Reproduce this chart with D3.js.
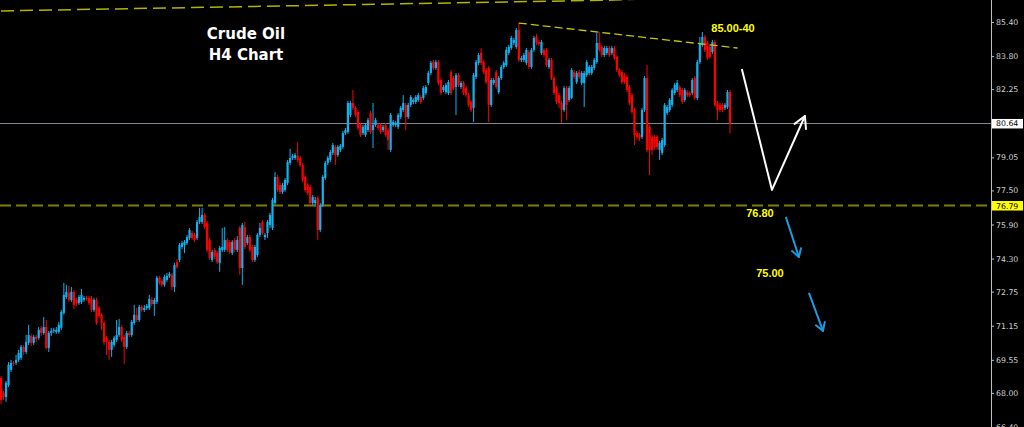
<!DOCTYPE html>
<html>
<head>
<meta charset="utf-8">
<script src="https://cdn.jsdelivr.net/npm/d3@7"></script>
<style>
  body { margin: 0; background: #000; }
  svg { display: block; }
</style>
</head>
<body>
<div id="chart"></div>
<script>
// H4 candles, each row is [open, close, high, low]
const candles = [
  [68.70,67.67,68.80,67.48],[68.00,67.81,68.09,67.67],[67.81,68.47,68.56,67.58],[68.37,69.31,69.45,68.28],
  [69.08,69.41,69.55,68.98],[69.41,69.36,69.50,69.26],[69.41,69.55,69.78,69.31],[69.55,69.88,70.02,69.45],
  [69.64,70.16,70.25,69.55],[70.16,69.92,70.25,69.78],[69.92,70.39,70.72,69.83],[70.35,70.72,71.19,70.25],
  [70.67,70.35,70.77,70.21],[70.35,70.63,70.72,70.25],[70.63,70.53,70.72,70.39],[70.58,70.96,71.09,70.49],
  [71.05,70.81,71.14,70.67],[70.81,71.09,71.56,70.72],[71.09,70.11,71.42,70.02],[70.11,70.81,70.91,69.92],
  [70.81,70.91,71.05,70.67],[70.91,70.96,71.05,70.81],[70.86,70.96,71.09,70.77],[70.86,71.19,71.33,70.77],
  [71.05,71.80,71.89,70.96],[71.75,72.60,73.16,71.66],[72.50,72.74,73.07,72.41],[72.69,72.36,73.02,72.27],
  [72.36,72.74,72.97,72.27],[72.74,72.13,72.83,71.94],[72.36,72.22,72.46,72.08],[72.22,72.50,72.60,72.13],
  [72.27,72.60,72.88,72.17],[72.36,72.46,72.55,72.27],[72.46,72.41,72.55,72.32],[72.46,72.22,72.55,72.13],
  [72.41,71.89,72.55,71.80],[71.89,72.36,72.46,71.80],[72.36,71.28,72.46,71.19],[71.98,71.61,72.08,71.52],
  [71.66,71.28,71.75,70.96],[71.28,70.39,71.38,70.25],[70.58,70.39,70.67,69.78],[70.39,70.02,70.49,69.55],
  [70.02,70.39,70.49,69.69],[70.25,70.58,70.67,70.16],[70.49,70.72,71.42,70.39],[70.72,71.09,71.47,70.63],
  [71.09,70.49,71.19,70.39],[70.63,70.16,70.72,69.36],[70.16,70.81,70.91,70.06],[70.81,70.72,70.91,70.63],
  [70.72,71.33,71.42,70.63],[71.28,71.66,72.13,71.19],[71.66,71.42,71.98,71.33],[71.42,72.03,72.13,71.33],
  [72.03,71.89,72.13,71.80],[71.89,71.98,72.13,71.80],[71.98,72.08,72.17,71.89],[71.98,72.41,72.60,71.89],
  [72.36,72.17,72.50,72.08],[72.17,72.36,72.46,71.61],[72.27,73.40,73.49,72.17],[73.40,73.16,73.49,73.07],
  [73.26,73.07,73.35,72.97],[73.07,73.44,73.54,72.97],[73.30,73.49,73.63,73.21],[73.49,73.58,73.68,73.40],
  [73.54,72.97,73.63,72.83],[72.97,74.00,74.10,72.74],[74.14,73.91,74.28,73.82],[74.24,74.94,75.03,74.14],
  // second leg
  [74.85,75.03,75.13,74.75],[74.94,75.08,75.17,74.56],[75.03,75.31,75.41,74.94],[75.27,75.64,75.74,75.17],
  [75.50,75.27,75.60,75.17],[75.41,75.17,75.50,75.08],[75.27,76.02,76.11,75.17],[76.02,76.25,76.68,75.92],
  [76.02,76.35,76.68,75.92],[76.35,75.78,76.44,75.69],[75.97,74.71,76.06,74.61],[75.17,74.33,75.27,74.24],
  [74.24,74.61,74.71,74.14],[74.71,74.38,74.80,74.28],[74.56,74.14,74.66,74.05],[74.10,74.80,74.89,73.68],
  [74.71,74.85,75.74,74.61],[74.71,75.17,75.78,74.61],[75.17,74.71,75.27,74.61],[75.08,74.61,75.17,74.52],
  [74.56,75.08,75.17,74.47],[75.17,74.71,75.27,74.61],[74.71,75.17,75.36,74.61],[75.74,73.86,75.83,73.54],
  [73.86,75.88,75.97,73.07],[75.78,74.85,76.02,74.75],[75.03,75.31,75.41,74.94],[75.31,74.71,75.41,74.61],
  [74.85,74.24,74.94,74.14],[74.24,74.85,74.94,74.14],[74.47,75.41,75.50,74.38],[75.41,75.74,75.97,75.31],
  [76.02,75.50,76.11,75.41],[75.31,75.41,75.50,75.17],[75.50,76.02,76.11,75.27],[75.88,76.35,76.44,75.74],
  [75.74,77.05,77.15,75.64],[76.91,78.13,78.36,76.82],[78.13,77.52,78.22,77.43],[77.75,77.43,77.85,77.33],
  [77.43,77.75,77.85,77.33],[77.52,77.99,78.08,77.43],[77.85,78.83,78.93,77.75],[78.79,79.02,79.45,78.69],
  [79.02,79.12,79.21,78.93],[79.02,79.16,79.26,78.93],[79.12,78.93,79.77,78.83],[79.02,78.69,79.12,78.60],
  [78.69,77.99,78.79,77.89],[78.13,77.52,78.22,77.43],[77.75,77.38,77.85,77.29],[77.66,76.91,77.75,76.82],
  [76.91,77.19,77.29,76.82],[76.91,77.05,77.19,76.72],[77.15,75.64,77.24,75.17],[75.64,76.82,76.91,75.55],
  [76.82,78.13,78.22,76.72],[78.08,78.79,78.88,77.99],[78.79,79.02,79.12,78.69],
  // third leg
  [78.93,79.30,79.40,78.83],[79.26,79.63,79.73,79.16],[79.54,79.16,79.63,78.69],[79.16,79.54,79.63,79.07],
  [79.40,79.59,79.68,79.30],[79.54,80.19,80.29,79.45],[80.19,80.33,80.43,80.10],[80.24,81.60,81.70,80.15],
  [81.04,81.60,81.70,80.94],[81.60,81.37,82.21,81.27],[81.37,81.04,81.46,80.94],[81.18,80.43,81.27,80.33],
  [80.57,80.10,80.66,80.01],[80.19,80.48,80.57,80.10],[80.10,80.57,80.66,80.01],[80.33,80.80,80.90,80.24],
  [81.13,80.24,81.23,80.15],[80.33,80.57,81.60,79.49],[80.57,80.80,80.90,80.48],[80.57,80.43,80.66,80.33],
  [80.57,80.24,80.66,80.15],[80.33,80.48,80.57,80.24],[80.57,80.10,80.66,80.01],[80.33,79.87,80.43,79.40],
  [79.40,81.04,81.13,79.30],[80.57,80.71,80.80,80.48],[80.57,80.66,80.76,80.48],[80.48,81.04,81.13,80.38],
  [80.94,81.37,81.46,80.85],[81.27,81.60,81.97,81.18],[81.51,80.94,81.60,80.33],[80.94,81.51,81.60,80.85],
  [81.51,81.88,81.97,81.41],[81.65,81.74,81.83,81.55],[81.65,81.88,81.97,81.55],[81.74,81.97,82.07,81.65],
  [81.88,81.65,81.97,81.55],[81.83,82.30,82.40,81.74],[82.07,82.35,82.44,81.97],[82.54,83.01,83.10,82.44],
  [83.01,83.48,83.57,82.91],[83.52,83.24,83.62,83.15],[83.24,83.52,83.62,83.15],[83.52,82.54,83.62,82.44],
  [82.68,82.07,82.77,81.97],[82.21,82.35,82.44,82.11],[82.11,82.44,82.54,82.02],[82.07,82.58,82.68,81.97],
  [83.05,82.07,83.15,81.97],[82.77,82.30,82.87,82.21],[82.35,82.91,83.01,81.04],[82.91,82.44,83.01,82.35],
  [82.35,82.54,82.63,82.26],[82.54,82.07,82.63,81.97],[82.30,81.97,82.40,81.88],[81.97,81.51,82.07,81.41],
  [81.65,81.27,81.74,81.18],[81.37,82.91,83.01,80.71],[82.82,83.52,83.62,82.72],[83.48,83.85,83.95,83.38],
  [83.95,83.48,84.18,83.38],[83.52,83.05,83.62,82.96],[83.15,82.58,83.24,82.49],[83.24,81.51,83.34,80.71],
  [81.51,82.68,82.77,81.41],[82.54,82.68,82.77,82.44],[83.05,82.35,83.15,82.26],[82.11,82.77,82.87,82.02],
  [82.77,83.29,83.38,82.68],[83.29,83.48,83.57,83.20],[83.38,84.09,84.23,83.29],[83.95,84.23,84.32,83.85],
  // top range
  [84.18,84.65,84.75,84.09],[84.42,84.56,84.65,84.32],[84.23,85.03,85.12,84.14],[85.03,83.62,85.35,83.52],
  [83.62,83.71,83.81,83.52],[83.62,83.85,83.95,83.52],[83.48,84.09,84.18,83.38],[83.99,83.29,84.09,83.20],
  [83.29,84.09,84.18,83.20],[84.09,84.65,84.75,83.99],[84.70,84.42,84.84,84.32],[84.46,84.37,84.56,84.28],
  [83.95,84.46,84.56,83.85],[84.09,83.85,84.18,83.76],[84.09,83.38,84.18,83.29],[83.29,83.62,83.71,83.20],
  [83.62,82.77,83.71,82.68],[82.77,82.07,82.87,81.97],[82.30,81.65,82.40,81.55],[81.97,81.60,82.07,81.37],
  [81.60,81.27,81.70,80.66],[81.27,82.30,82.40,81.18],[82.30,81.51,82.40,80.80],[81.74,82.30,82.40,81.65],
  [81.83,83.15,83.24,81.79],[83.05,82.82,83.15,82.72],[82.58,83.01,83.10,82.49],[83.05,82.82,83.15,82.72],
  [82.54,83.01,83.10,82.44],[82.54,83.01,83.10,81.41],[82.91,83.52,83.62,82.82],[83.01,83.29,83.38,82.91],
  [83.01,83.29,83.38,82.91],[83.24,83.62,83.71,83.15],[83.52,84.42,84.89,83.43],[84.42,84.09,84.93,83.99],
  [84.23,83.85,84.32,83.76],[83.85,84.18,84.28,83.76],[83.95,84.18,84.28,83.85],[84.18,83.85,84.28,83.76],
  [83.95,84.18,84.28,83.85],[84.18,83.71,84.28,83.62],[83.76,83.15,83.85,83.05],[83.15,82.91,83.24,82.82],
  [83.05,82.58,83.15,82.49],[82.91,82.58,83.01,82.49],[82.82,82.21,82.91,82.11],[82.35,81.60,82.44,81.51],
  [81.97,81.18,82.07,81.08],[81.27,80.10,81.37,79.63],[80.19,80.01,80.29,79.87],[80.10,79.96,80.19,79.82],
  [80.01,81.27,81.37,79.91],[81.27,82.77,82.87,81.18],[82.77,79.40,83.38,79.30],[80.48,79.40,80.57,78.22],
  [80.01,79.40,80.10,79.16],[80.01,79.54,80.10,79.40],[80.01,79.54,80.10,79.40],[79.40,79.73,79.82,78.93],
  [79.26,79.87,79.96,79.16],[79.63,81.51,81.60,79.54],[81.13,81.41,81.51,81.04],[81.27,81.74,81.83,81.18],
  [81.51,82.21,82.30,81.41],[82.07,82.44,82.54,81.97],[82.21,82.54,82.68,82.11],[82.35,81.97,82.44,81.88],
  [82.21,81.65,82.30,81.55],[81.74,82.21,82.30,81.65],[82.11,81.97,82.21,81.88],[82.07,81.97,82.16,81.88],
  [82.07,82.68,82.77,81.97],[82.77,81.83,82.87,81.74],[81.83,83.52,83.62,81.74],[83.52,84.42,84.70,83.43],
  [84.32,84.70,84.93,84.23],[84.70,84.09,84.79,83.99],[84.42,83.71,84.51,83.62],[84.23,83.76,84.32,83.66],
  [83.99,84.46,84.56,83.90],[84.46,81.51,84.56,81.41],[81.60,81.27,81.70,80.80],[81.51,81.27,81.60,81.18],
  [81.51,81.27,81.60,81.18],[81.37,81.51,81.60,81.27],[81.41,82.11,82.21,81.32],[82.11,80.64,82.21,80.17]
];

const yTicks = [85.40, 83.80, 82.25, 80.65, 79.05, 77.50, 75.90, 74.30, 72.75, 71.15, 69.55, 68.00, 66.40];
const lastPrice = 80.64;
const supportPrice = 76.79;

// drawn lines, as [candle index, price]
const upperLine = [[0, 85.92], [244, 86.43], [330, 86.80]];
const resistanceLine = [[206, 85.35], [293, 84.18]];
const scenarioPath = [[294.7, 83.20], [306.7, 77.52], [319.8, 80.99]];
const downArrows = [
  [[312.2, 76.26], [317.4, 74.38]],
  [[321.4, 72.69], [327.0, 70.91]]
];
const notes = [
  { text: "85.00-40", i: 291.2, p: 84.93 },
  { text: "76.80", i: 301.9, p: 76.26 },
  { text: "75.00", i: 305.9, p: 73.44 }
];

const width = 1024, height = 427;
const axisX = 991;

const svg = d3.select("#chart")
  .append("svg")
  .attr("width", width)
  .attr("height", height)
  .style("background", "#000");

const x = d3.scaleLinear()
  .domain([0, candles.length - 1])
  .range([1, 730]);

const y = d3.scaleLinear()
  .domain([66.40, 85.40])
  .range([427, 22]);

const plot = svg.append("g");

// upper dashed trend line running off the top
plot.append("path")
  .datum(upperLine)
  .attr("fill", "none")
  .attr("stroke", "#b4b400")
  .attr("stroke-width", 1.5)
  .attr("stroke-dasharray", "13,6")
  .attr("d", d3.line().x(d => x(d[0])).y(d => y(d[1])));

// current price line
plot.append("line")
  .attr("x1", 0).attr("x2", axisX)
  .attr("y1", Math.round(y(lastPrice)) + 0.5)
  .attr("y2", Math.round(y(lastPrice)) + 0.5)
  .attr("stroke", "#7d8792")
  .attr("stroke-width", 1);

// support level
plot.append("line")
  .attr("x1", 0).attr("x2", axisX)
  .attr("y1", y(supportPrice))
  .attr("y2", y(supportPrice))
  .attr("stroke", "#808000")
  .attr("stroke-width", 2)
  .attr("stroke-dasharray", "11,5");

// candles
const blue = "#12b2f0", red = "#ff0000";
const bars = plot.selectAll(".candle")
  .data(candles)
  .enter()
  .append("g")
  .attr("class", "candle");

bars.append("line")
  .attr("x1", (d, i) => x(i))
  .attr("x2", (d, i) => x(i))
  .attr("y1", d => y(d[2]))
  .attr("y2", d => y(d[3]))
  .attr("stroke", d => d[1] >= d[0] ? blue : red)
  .attr("stroke-width", 1);

bars.append("rect")
  .attr("x", (d, i) => x(i) - 1.1)
  .attr("width", 2.2)
  .attr("y", d => y(Math.max(d[0], d[1])))
  .attr("height", d => Math.max(1, Math.abs(y(d[0]) - y(d[1]))))
  .attr("fill", d => d[1] >= d[0] ? blue : red);

// resistance trend line
plot.append("path")
  .datum(resistanceLine)
  .attr("fill", "none")
  .attr("stroke", "#c8c800")
  .attr("stroke-width", 1.3)
  .attr("stroke-dasharray", "8,4")
  .attr("d", d3.line().x(d => x(d[0])).y(d => y(d[1])));

// arrow helper: open head at the last point
function arrowHead(g, from, tip, len, spread, color, width) {
  const tx = x(tip[0]), ty = y(tip[1]);
  const ang = Math.atan2(y(from[1]) - ty, x(from[0]) - tx);
  [-spread, spread].forEach(s => {
    g.append("line")
      .attr("x1", tx).attr("y1", ty)
      .attr("x2", tx + len * Math.cos(ang + s))
      .attr("y2", ty + len * Math.sin(ang + s))
      .attr("stroke", color)
      .attr("stroke-width", width)
      .attr("stroke-linecap", "round");
  });
}

// white scenario path
plot.append("path")
  .datum(scenarioPath)
  .attr("fill", "none")
  .attr("stroke", "#ffffff")
  .attr("stroke-width", 2)
  .attr("stroke-linejoin", "round")
  .attr("d", d3.line().x(d => x(d[0])).y(d => y(d[1])));
arrowHead(plot, scenarioPath[1], scenarioPath[2], 13, 0.5, "#ffffff", 2);

// blue target arrows
downArrows.forEach(a => {
  plot.append("line")
    .attr("x1", x(a[0][0])).attr("y1", y(a[0][1]))
    .attr("x2", x(a[1][0])).attr("y2", y(a[1][1]))
    .attr("stroke", "#1e9be0")
    .attr("stroke-width", 2);
  arrowHead(plot, a[0], a[1], 9, 0.55, "#1e9be0", 2);
});

// yellow notes
plot.selectAll(".note")
  .data(notes)
  .enter()
  .append("text")
  .attr("x", d => x(d.i))
  .attr("y", d => y(d.p))
  .attr("text-anchor", "middle")
  .attr("fill", "#ffff00")
  .style("font-family", "'Liberation Sans', Arial, sans-serif")
  .style("font-weight", "bold")
  .style("font-size", "11px")
  .text(d => d.text);

// title
const title = svg.append("g")
  .attr("fill", "#ffffff")
  .style("font-family", "'DejaVu Sans', sans-serif")
  .style("font-weight", "bold")
  .style("font-size", "15px")
  .attr("text-anchor", "middle");
title.append("text").attr("x", 246).attr("y", 39).text("Crude Oil");
title.append("text").attr("x", 246).attr("y", 60).text("H4 Chart");

// price axis
svg.append("line")
  .attr("x1", axisX + 0.5).attr("x2", axisX + 0.5)
  .attr("y1", 0).attr("y2", height)
  .attr("stroke", "#c0c0c0");

const axis = svg.append("g")
  .attr("transform", `translate(${axisX},0)`)
  .call(d3.axisRight(y)
    .tickValues(yTicks)
    .tickSize(3)
    .tickPadding(2)
    .tickFormat(d3.format(".2f")));
axis.select(".domain").remove();
axis.selectAll("line").attr("stroke", "#c0c0c0");
axis.selectAll("text")
  .attr("fill", "#d0d0d0")
  .style("font-family", "'DejaVu Sans', sans-serif")
  .style("font-size", "7.8px");

// price tags on the axis
[[lastPrice, "#ffffff"], [supportPrice, "#ffff00"]].forEach(([p, fill]) => {
  const g = svg.append("g").attr("transform", `translate(${axisX + 1},${y(p)})`);
  g.append("rect")
    .attr("x", 0).attr("y", -4.5)
    .attr("width", 31).attr("height", 9.5)
    .attr("fill", fill);
  g.append("text")
    .attr("x", 4).attr("y", 3)
    .attr("fill", "#000")
    .style("font-family", "'DejaVu Sans', sans-serif")
    .style("font-size", "7.8px")
    .text(d3.format(".2f")(p));
});
</script>
</body>
</html>
